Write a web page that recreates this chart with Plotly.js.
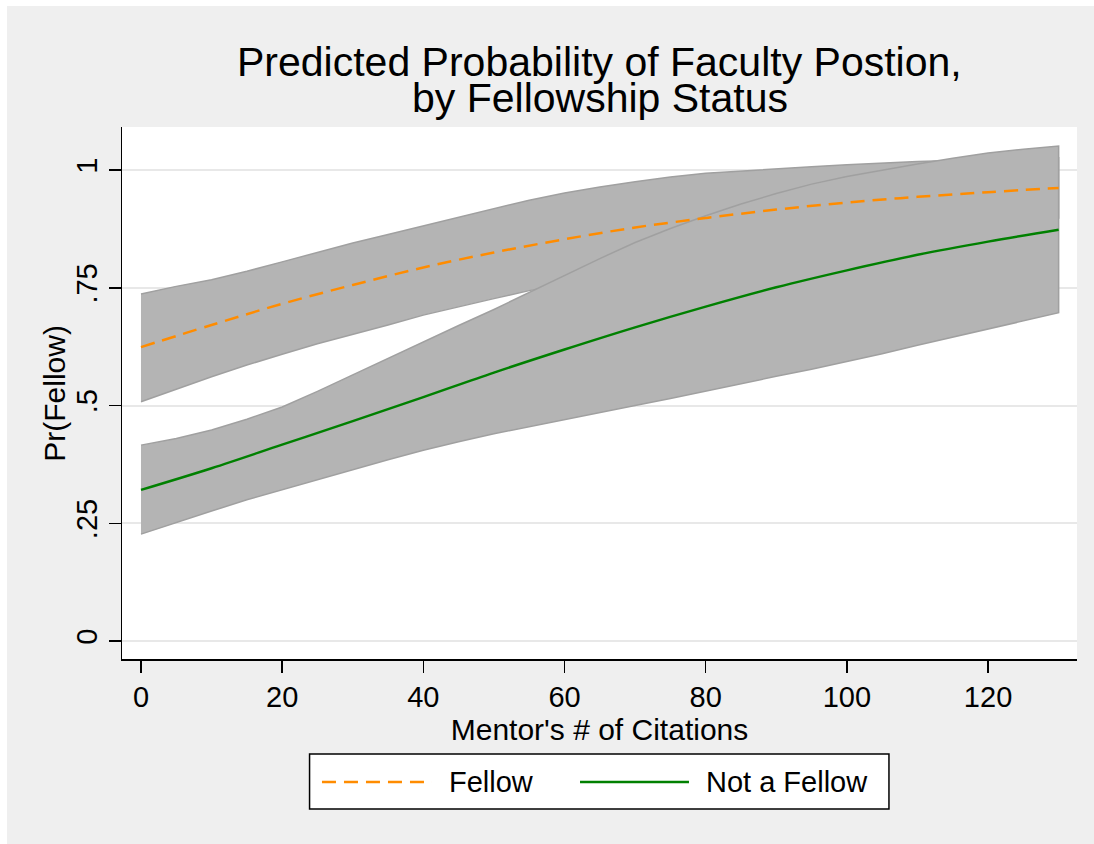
<!DOCTYPE html>
<html>
<head>
<meta charset="utf-8">
<script src="https://cdn.plot.ly/plotly-3.0.1.min.js"></script>
<style>
html,body{margin:0;padding:0;background:#ffffff;}
#chart{position:absolute;left:7px;top:6px;width:1087px;height:838px;}
</style>
</head>
<body>
<div id="chart"></div>
<script>
// ---- data ----
// predicted probabilities (lines)
const citations    = [0, 10, 20, 30, 40, 50, 60, 70, 80, 90, 100, 110, 120, 130];
const fellowPr     = [0.624, 0.671, 0.716, 0.756, 0.793, 0.825, 0.853, 0.878, 0.898, 0.916, 0.931, 0.943, 0.953, 0.962];
const notFellowPr  = [0.321, 0.367, 0.417, 0.467, 0.518, 0.570, 0.619, 0.666, 0.710, 0.751, 0.787, 0.820, 0.848, 0.873];

// confidence bands (read every 5 citations)
const bandCitations = [0, 5, 10, 15, 20, 25, 30, 35, 40, 45, 50, 55, 60, 65, 70, 75, 80, 85, 90, 95, 100, 105, 110, 115, 120, 125, 130];
const fellowLo     = [0.508, 0.535, 0.561, 0.586, 0.609, 0.631, 0.651, 0.671, 0.692, 0.709, 0.727, 0.744, 0.758, 0.772, 0.785, 0.797, 0.809, 0.820, 0.831, 0.841, 0.851, 0.860, 0.869, 0.877, 0.885, 0.892, 0.898];
const fellowHi     = [0.737, 0.753, 0.767, 0.785, 0.805, 0.825, 0.845, 0.863, 0.881, 0.900, 0.918, 0.936, 0.951, 0.964, 0.975, 0.985, 0.993, 0.998, 1.003, 1.007, 1.011, 1.015, 1.018, 1.020, 1.022, 1.024, 1.026];
const notFellowLo  = [0.227, 0.252, 0.276, 0.300, 0.322, 0.343, 0.364, 0.385, 0.405, 0.423, 0.440, 0.455, 0.470, 0.485, 0.500, 0.515, 0.530, 0.546, 0.562, 0.577, 0.593, 0.610, 0.628, 0.645, 0.662, 0.680, 0.697];
const notFellowHi  = [0.416, 0.430, 0.448, 0.471, 0.497, 0.530, 0.565, 0.600, 0.636, 0.670, 0.704, 0.740, 0.775, 0.812, 0.846, 0.876, 0.903, 0.928, 0.950, 0.970, 0.986, 1.000, 1.013, 1.025, 1.036, 1.044, 1.051];

const seriesNames  = ['Fellow', 'Not a Fellow'];
const xTickVals    = [0, 20, 40, 60, 80, 100, 120];
const yTickVals    = [0, 0.25, 0.5, 0.75, 1];
const yTickText    = ['0', '.25', '.5', '.75', '1'];
const titleLines   = ['Predicted Probability of Faculty Postion,', 'by Fellowship Status'];
const xTitle       = "Mentor's # of Citations";
const yTitle       = 'Pr(Fellow)';

// ---- styles ----
const FONT = '"Liberation Sans", Arial, Helvetica, sans-serif';
const BAND_FILL = '#b4b4b4';
const BAND_LINE = '#a0a0a0';
const ORANGE = '#ff8c00';
const GREEN = '#008000';

function band(x, lo, hi) {
  return {
    x: x.concat(x.slice().reverse()),
    y: hi.concat(lo.slice().reverse()),
    type: 'scatter', mode: 'lines', fill: 'toself',
    fillcolor: BAND_FILL,
    line: {color: BAND_LINE, width: 1.5},
    hoverinfo: 'skip', showlegend: false
  };
}

const traces = [
  band(bandCitations, fellowLo, fellowHi),
  band(bandCitations, notFellowLo, notFellowHi),
  {x: citations, y: fellowPr, type: 'scatter', mode: 'lines', name: seriesNames[0],
   line: {color: ORANGE, width: 2.5, dash: '14px,8px', shape: 'spline'}},
  {x: citations, y: notFellowPr, type: 'scatter', mode: 'lines', name: seriesNames[1],
   line: {color: GREEN, width: 2.5, shape: 'spline'}}
];

// plot area in div pixels: left 115, right 1070, top 121, bottom 653
const legY = -0.2312;
const layout = {
  width: 1087, height: 838,
  paper_bgcolor: '#efefef', plot_bgcolor: '#ffffff',
  margin: {l: 115, r: 17, t: 121, b: 185, pad: 0},
  showlegend: false,
  font: {family: FONT, color: '#000000', size: 29},
  xaxis: {
    range: [-2.69, 132.6], tickvals: xTickVals, ticktext: xTickVals.map(String),
    ticks: 'outside', ticklen: 12, tickwidth: 1.5, tickcolor: '#000',
    showline: true, linecolor: '#000', linewidth: 1.5,
    showgrid: false, zeroline: false,
    tickfont: {family: FONT, size: 29, color: '#000'},
    title: {text: xTitle, font: {family: FONT, size: 30, color: '#000'}, standoff: 0}
  },
  yaxis: {
    range: [-0.038, 1.0913], tickvals: yTickVals, ticktext: yTickText, tickangle: -90,
    ticks: 'outside', ticklen: 12, tickwidth: 1.5, tickcolor: '#000',
    showline: true, linecolor: '#000', linewidth: 1.5,
    showgrid: true, gridcolor: '#e8e8e8', gridwidth: 2, zeroline: false,
    tickfont: {family: FONT, size: 29, color: '#000'}
  },
  annotations: [
    {text: titleLines[0], xref: 'paper', yref: 'paper', x: 0.5, y: 1.1231, xanchor: 'center', yanchor: 'middle',
     showarrow: false, borderpad: 0, font: {family: FONT, size: 41, color: '#000'}},
    {text: titleLines[1], xref: 'paper', yref: 'paper', x: 0.5, y: 1.0545, xanchor: 'center', yanchor: 'middle',
     showarrow: false, borderpad: 0, font: {family: FONT, size: 41, color: '#000'}},
    {text: yTitle, xref: 'paper', yref: 'paper', x: -0.0715, y: 0.5, xanchor: 'center', yanchor: 'middle',
     textangle: -90, showarrow: false, borderpad: 0, font: {family: FONT, size: 30, color: '#000'}},
    {text: seriesNames[0], xref: 'paper', yref: 'paper', x: 0.3404, y: legY, xanchor: 'left', yanchor: 'middle',
     showarrow: false, font: {family: FONT, size: 29, color: '#000'}},
    {text: seriesNames[1], xref: 'paper', yref: 'paper', x: 0.6095, y: legY, xanchor: 'left', yanchor: 'middle',
     showarrow: false, font: {family: FONT, size: 29, color: '#000'}}
  ],
  shapes: [
    {type: 'rect', xref: 'paper', yref: 'paper', x0: 0.1964, x1: 0.8031, y0: -0.282, y1: -0.1786,
     fillcolor: '#ffffff', line: {color: '#000', width: 1.5}, layer: 'above'},
    {type: 'line', xref: 'paper', yref: 'paper', x0: 0.2094, x1: 0.3246, y0: legY, y1: legY,
     line: {color: ORANGE, width: 2.5, dash: '14px,8px'}, layer: 'above'},
    {type: 'line', xref: 'paper', yref: 'paper', x0: 0.4796, x1: 0.5937, y0: legY, y1: legY,
     line: {color: GREEN, width: 2.5}, layer: 'above'}
  ]
};

Plotly.newPlot('chart', traces, layout, {displayModeBar: false, staticPlot: true});
</script>
</body>
</html>
